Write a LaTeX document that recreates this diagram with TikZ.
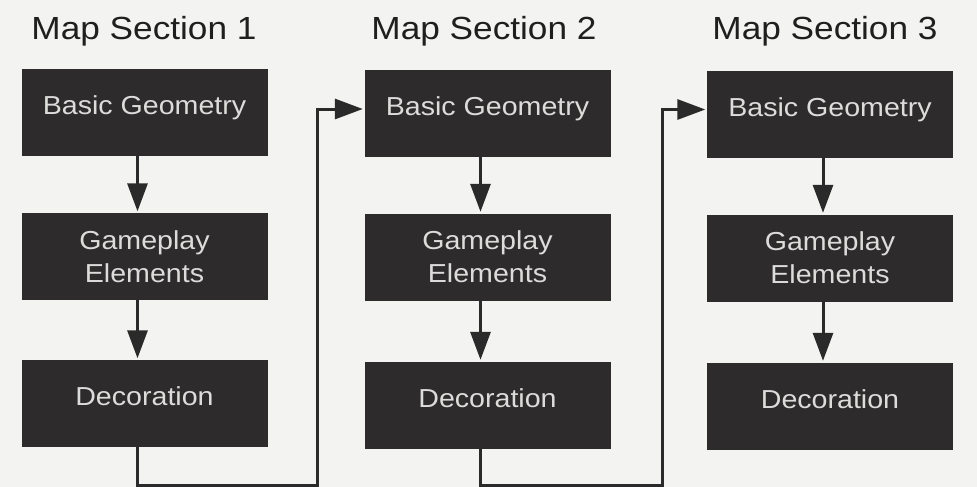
\documentclass[tikz,border=0pt]{standalone}
\usepackage{fontspec}
\setmainfont[FakeStretch=1.1]{Liberation Sans}
\usetikzlibrary{arrows.meta}
\definecolor{bgc}{HTML}{F3F3F1}
\definecolor{boxc}{HTML}{2D2B2C}
\definecolor{txtc}{HTML}{DCDCDA}
\definecolor{linec}{HTML}{2A2A2A}
\begin{document}
\begin{tikzpicture}[x=1pt,y=-1pt,
  box/.style={fill=boxc, draw=boxc, minimum width=245pt, minimum height=86pt,
    inner sep=0pt, text=txtc, font=\fontsize{26}{33}\selectfont, align=center},
  onel/.style={text height=18pt, text depth=13.4pt},
  ttl/.style={anchor=base, text=black!88, font=\fontsize{32}{36}\selectfont},
  conn/.style={line width=3pt, draw=linec, shorten >=2pt,
    -{Triangle[length=28pt,width=20pt]}}]
\useasboundingbox (0,0) rectangle (977,487);
\fill[bgc] (0,0) rectangle (977,487);

% titles
\node[ttl] (t1) at (144,40) {Map Section 1};
\node[ttl] (t2) at (484,40) {Map Section 2};
\node[ttl] (t3) at (825,40) {Map Section 3};

% column 1
\node[box,onel] (b1) at (144.5,112) {Basic Geometry};
\node[box] (g1) at (144.5,256.5) {Gameplay\\Elements};
\node[box,onel] (d1) at (144.5,403.5) {Decoration};
% column 2
\node[box,onel] (b2) at (487.5,113) {Basic Geometry};
\node[box] (g2) at (487.5,257) {Gameplay\\Elements};
\node[box,onel] (d2) at (487.5,405) {Decoration};
% column 3
\node[box,onel] (b3) at (830,114.5) {Basic Geometry};
\node[box] (g3) at (830,258) {Gameplay\\Elements};
\node[box,onel] (d3) at (830,406) {Decoration};

% vertical arrows
\foreach \c in {1,2,3}{
  \draw[conn] ([xshift=-7pt]b\c.south) -- ([xshift=-7pt]g\c.north);
  \draw[conn] ([xshift=-7pt]g\c.south) -- ([xshift=-7pt]d\c.north);
}

% links between sections
\coordinate (k1) at (317,485);
\coordinate (k2) at (662,485);
\draw[conn] ([xshift=-7pt]d1.south) |- (k1) |- ([yshift=4pt]b2.west);
\draw[conn] ([xshift=-7pt]d2.south) |- (k2) |- ([yshift=5pt]b3.west);
\end{tikzpicture}
\end{document}
